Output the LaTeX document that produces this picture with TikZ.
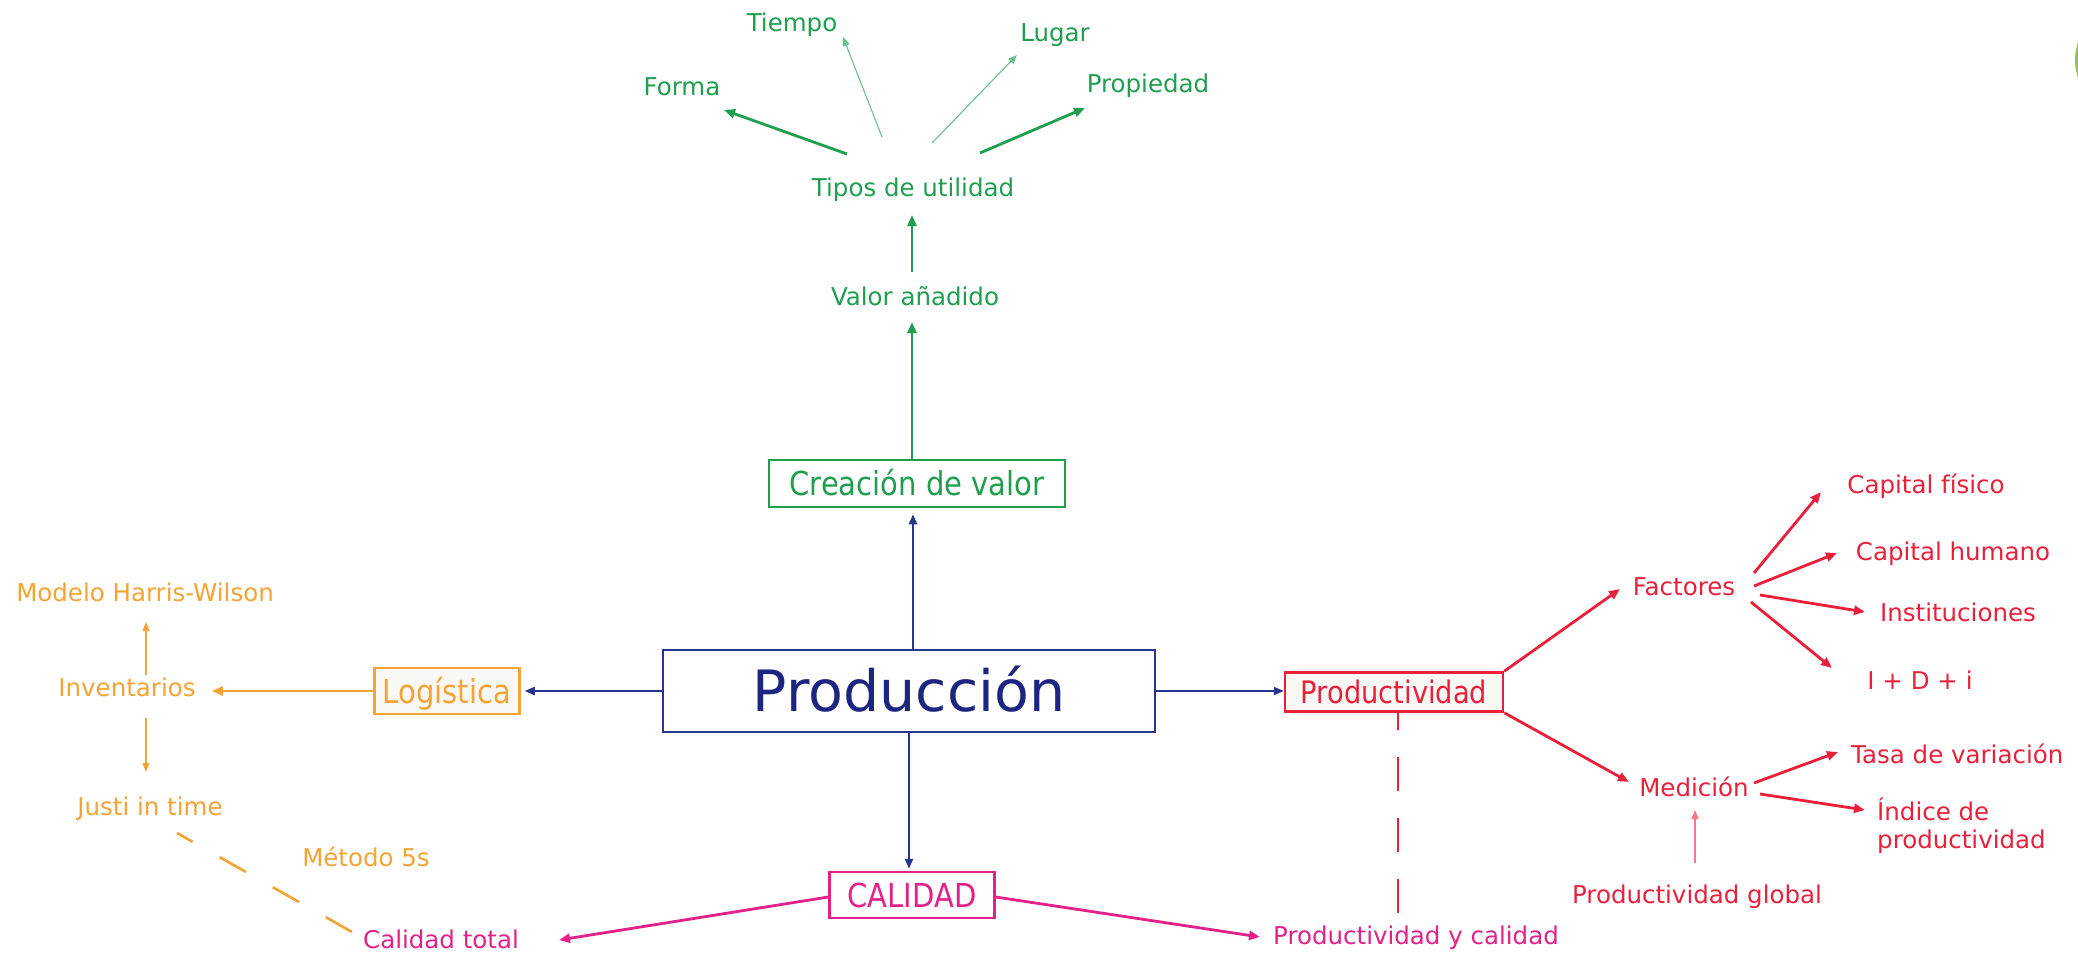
\documentclass[tikz,border=0pt]{standalone}
\usepackage{fontspec}
\setmainfont{DejaVu Sans}
\newfontfamily\condf[FakeStretch=0.88]{DejaVu Sans}
\usetikzlibrary{arrows.meta,calc}
\definecolor{grn}{RGB}{30,158,78}
\definecolor{navy}{RGB}{40,52,145}
\definecolor{navytxt}{RGB}{28,38,128}
\definecolor{orng}{RGB}{245,163,52}
\definecolor{rd}{RGB}{234,32,58}
\definecolor{mag}{RGB}{228,32,138}
\definecolor{logo}{RGB}{150,190,80}
\definecolor{boxfill}{RGB}{248,248,245}
\begin{document}
\begin{tikzpicture}[x=1pt,y=-1pt,
  lbl/.style={inner sep=0pt, anchor=base, font=\fontsize{24.5}{28}\selectfont},
  bx/.style={draw, line width=2.5pt, inner sep=0pt, text depth=0pt},
  bfont/.style={font=\condf\fontsize{33}{36}\selectfont, text height=24pt},
  thk/.style={line width=2.8pt, -{Triangle[length=11pt,width=9pt]}},
  thn/.style={line width=1.1pt, -{Triangle[length=9pt,width=7pt]}},
  nv/.style={line width=2.3pt, -{Triangle[length=10pt,width=8pt]}},
  dsh/.style={line width=2.6pt, dash pattern=on 30pt off 31pt, dash phase=12pt},
  dshv/.style={line width=2.4pt, dash pattern=on 34pt off 27pt, dash phase=17pt}]
\useasboundingbox (0,0) rectangle (2078,954);
\fill[white] (0,0) rectangle (2078,954);
\begin{scope}
  \clip (0,0) rectangle (2078,954);
  \fill[logo] (2128,60) circle (53);
\end{scope}

% ---------- green ----------
\node[lbl,text=grn] (tiempo) at (792,31) {Tiempo};
\node[lbl,text=grn] (lugar) at (1055,41) {Lugar};
\node[lbl,text=grn] (forma) at (682,95) {Forma};
\node[lbl,text=grn] (prop) at (1148,92) {Propiedad};
\node[lbl,text=grn] (tipos) at (913,196) {Tipos de utilidad};
\node[lbl,text=grn] (valor) at (915,305) {Valor añadido};
\node[bx,bfont,draw=grn,text=grn,minimum width=296,minimum height=47] (crea) at (917,483.5) {Creación de valor};

% ---------- centre ----------
\node[bx,draw=navy,text=navytxt,line width=2.2pt,minimum width=492,minimum height=82,
      font=\fontsize{57}{60}\selectfont,text height=41.5pt] (prod) at (909,691) {Producción};

% ---------- orange ----------
\node[bx,bfont,draw=orng,fill=boxfill,text=orng,minimum width=145,minimum height=46] (logi) at (447,691) {Logística};
\node[lbl,text=orng] (modelo) at (145,601) {Modelo Harris-Wilson};
\node[lbl,text=orng] (inv) at (127,696) {Inventarios};
\node[lbl,text=orng] (justi) at (150,815) {Justi in time};
\node[lbl,text=orng] (metodo) at (366,866) {Método 5s};

% ---------- magenta ----------
\node[bx,bfont,draw=mag,text=mag,minimum width=165,minimum height=46] (cal) at (912,895) {CALIDAD};
\node[lbl,text=mag] (caltot) at (441,948) {Calidad total};
\node[lbl,text=mag] (pyc) at (1416,944) {Productividad y calidad};

% ---------- red ----------
\node[bx,draw=rd,fill=boxfill,text=rd,minimum width=218,minimum height=39,
      font=\condf\fontsize{31}{34}\selectfont,text height=22.5pt] (pty) at (1394,692) {Productividad};
\node[lbl,text=rd] (fac) at (1684,595) {Factores};
\node[lbl,text=rd] (med) at (1694,796) {Medición};
\node[lbl,text=rd] (cf) at (1926,493) {Capital físico};
\node[lbl,text=rd] (ch) at (1953,560) {Capital humano};
\node[lbl,text=rd] (inst) at (1958,621) {Instituciones};
\node[lbl,text=rd] (idi) at (1920,689) {I + D + i};
\node[lbl,text=rd,anchor=base west] (tasa) at (1851,763) {Tasa de variación};
\node[lbl,text=rd,anchor=north west,align=left] (ind) at (1877,798) {Índice de\\productividad};
\node[lbl,text=rd] (pg) at (1697,903) {Productividad global};

% ---------- green connectors ----------
\draw[grn,thk] ($(tipos.base)+(-66,-42)$) -- ($(forma.base)+(42,15)$);
\draw[grn!65,thn] ($(tipos.base)+(-31,-59)$) -- ($(tiempo.base)+(51,6)$);
\draw[grn!65,thn] ($(tipos.base)+(19,-53)$) -- ($(lugar.base)+(-38,14)$);
\draw[grn,thk] ($(tipos.base)+(67,-43)$) -- ($(prop.base)+(-63,16)$);
\draw[grn,thk] ($(valor.base)+(-3,-33)$) -- ($(tipos.base)+(-1,19)$);
\draw[grn,thk] ($(crea.north)+(-5,0)$) -- ($(valor.base)+(-3,17)$);

% ---------- navy connectors ----------
\draw[navy,nv] ($(prod.north)+(4,0)$) -- ($(crea.south)+(-4,6)$);
\draw[navy,nv] (prod.west) -- ($(prod.west -| logi.east)+(4,0)$);
\draw[navy,nv] (prod.east) -- (prod.east -| pty.west);
\draw[navy,nv] (prod.south) -- ($(prod.south |- cal.north)+(0,-2)$);

% ---------- orange connectors ----------
\draw[orng,thk] (logi.west) -- ($(inv.east |- logi.west)+(16,0)$);
\draw[orng,thn] ($(inv.base)+(19,-21)$) -- ($(modelo.base)+(1,21)$);
\draw[orng,thn] ($(inv.base)+(19,22)$) -- ($(justi.base)+(-4,-43)$);
\draw[orng,dsh] ($(justi.base)+(27,18)$) -- ($(caltot.base)+(-89,-16)$);

% ---------- magenta connectors ----------
\draw[mag,thk] ($(cal.west)+(0,2)$) -- ($(caltot.base)+(118,-8)$);
\draw[mag,thk] ($(cal.east)+(0,2)$) -- ($(pyc.base)+(-156,-7)$);

% ---------- red connectors ----------
\draw[rd,dshv] ($(pty.south)+(4,0)$) -- ($(pyc.base)+(-18,-31)$);
\draw[rd,thk] (pty.north east) -- ($(fac.base)+(-64,-6)$);
\draw[rd,thk] (pty.south east) -- ($(med.base)+(-65,-14)$);
\draw[rd,thk] ($(fac.base)+(70,-22)$) -- ($(cf.base)+(-105,-1)$);
\draw[rd,thk] ($(fac.base)+(70,-9)$) -- ($(ch.base)+(-116,-7)$);
\draw[rd,thk] ($(fac.base)+(76,0)$) -- ($(inst.base)+(-93,-9)$);
\draw[rd,thk] ($(fac.base)+(67,7)$) -- ($(idi.base)+(-88,-21)$);
\draw[rd,thk] ($(med.base)+(60,-13)$) -- ($(tasa.base west)+(-13,-11)$);
\draw[rd,thk] ($(med.base)+(66,-2)$) -- ($(ind.north west)+(-12,12)$);
\draw[rd!60,thn] ($(pg.base)+(-2,-40)$) -- ($(med.base)+(1,14)$);
\end{tikzpicture}
\end{document}
